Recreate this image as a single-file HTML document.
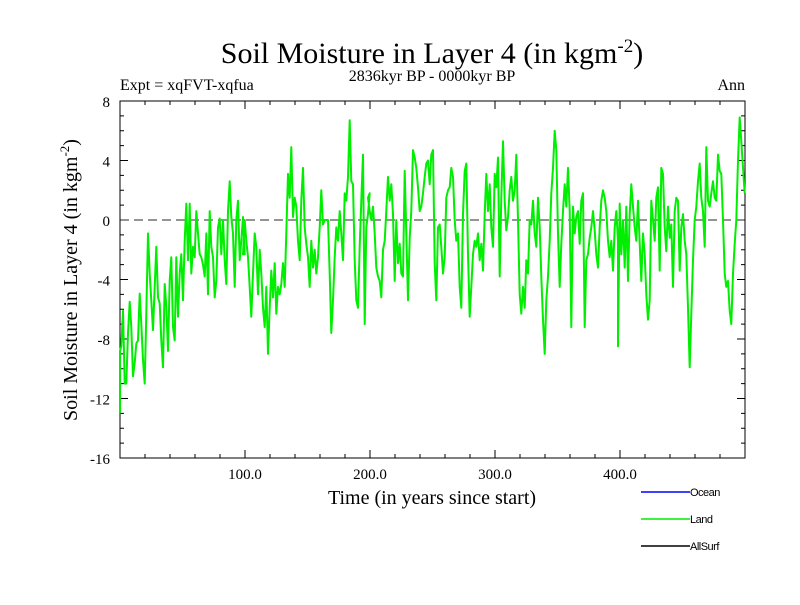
<!DOCTYPE html>
<html><head><meta charset="utf-8"><style>
body{margin:0;background:#fff;}
svg text{font-family:"Liberation Serif",serif;fill:#000;}
</style></head><body>
<svg id="chart" width="800" height="600" viewBox="0 0 800 600" xmlns="http://www.w3.org/2000/svg">
<rect width="800" height="600" fill="#fff"/>
<text x="432" y="63" font-size="30" text-anchor="middle">Soil Moisture in Layer 4 (in kgm<tspan dy="-11" font-size="19">-2</tspan><tspan dy="11">)</tspan></text>
<text x="120" y="90" font-size="16">Expt = xqFVT-xqfua</text>
<text x="432" y="81" font-size="16" text-anchor="middle">2836kyr BP - 0000kyr BP</text>
<text x="745" y="90" font-size="16" text-anchor="end">Ann</text>
<text transform="translate(77,280) rotate(-90)" font-size="20" text-anchor="middle">Soil Moisture in Layer 4 (in kgm<tspan dy="-8" font-size="13">-2</tspan><tspan dy="8">)</tspan></text>
<text x="432" y="504" font-size="20" text-anchor="middle">Time (in years since start)</text>
<g id="axes"></g>
<g id="series"></g>
<g id="legend"></g>
</svg>
<script>
const xTickValues=[100,200,300,400];
const xTickLabels=["100.0","200.0","300.0","400.0"];
const yTickValues=[8,4,0,-4,-8,-12,-16];
const yTickLabels=["8","4","0","-4","-8","-12","-16"];
const segStartYears=[-1.6,98.4,198.4,298.4,398.4];
const sampleStepYears=1.3333;
const landSeg1=[-13.0,-8.8,-8.5,-6.1,-11.0,-11.0,-7.6,-5.5,-7.2,-10.5,-9.6,-8.3,-8.1,-4.95,-7.0,-9.4,-11.0,-6.3,-0.9,-3.6,-5.4,-7.4,-4.5,-1.8,-5.2,-5.6,-8.1,-9.9,-4.3,-5.8,-8.8,-4.1,-2.5,-7.2,-8.1,-2.5,-6.5,-3.6,-2.3,-5.4,-1.4,1.1,-2.7,1.1,-3.6,-1.8,-2.5,0.6,-0.9,-2.3,-2.5,-3.0,-3.8,-0.9,-5.0,0.6,-1.8,-2.5,-5.2,-4.1,-0.5,0.1,-2.3,0.0,-2.7,-4.3,0.6,2.6,0.2,-0.9,-4.5,0.0,1.3,-2.7,-1.4,0.2,-2.3];
const landSeg2=[-2.3,0,-1.4,-2.5,-4.5,-6.5,-3.6,-0.9,-1.8,-5.0,-2.0,-3.6,-5.9,-7.2,-4.5,-9.0,-5.9,-3.4,-5.2,-2.9,-6.3,-4.5,-5.0,-4.3,-2.9,-4.5,-0.9,3.1,1.5,4.9,0.2,1.5,0.9,-1.4,-2.7,1.3,3.5,-0.5,-1.6,-2.5,-4.5,-1.4,-3.2,-2.0,-3.6,-2.5,-0.5,2.0,-0.3,0,0,0,-3.6,-7.6,-5.4,-2.5,-0.5,-1.4,0.6,-0.9,-2.7,1.8,1.3,2.9,6.7,2.6,2.4,-2.7,-5.4,-5.9,-1.8,1.3,4.4,-7.0,-0.5,0.4,1.8];
const landSeg3=[1.5,0.6,0.0,0.9,-0.9,-3.2,-3.8,-4.1,-5.2,-2.0,-1.4,0.6,2.9,1.3,2.4,0.4,-4.1,0.0,-2.9,-1.6,-3.6,-3.8,3.3,-0.9,-5.4,-1.2,0.6,4.7,4.2,3.5,2.2,0.6,0.9,1.8,2.9,3.8,4.0,2.4,4.4,4.7,-2.9,-5.4,-0.5,-0.3,-1.8,-3.6,-2.5,1.5,2.0,2.2,3.5,2.9,0.0,-1.4,-0.9,-4.5,-5.9,0.4,3.3,3.8,-2.3,-6.5,-4.5,-2.3,-1.4,-1.8,-0.9,-2.7,-1.6,-3.4,0.4,3.1,0.6,2.4,-0.5];
const landSeg4=[-1.8,3.1,2.2,4.2,-3.8,1.5,5.3,1.3,-0.7,0.2,2.0,2.9,1.3,2.0,4.4,0.0,-5.0,-6.3,-4.5,-5.9,-2.7,-3.6,0.0,-0.3,1.3,-0.9,-1.8,1.5,-0.5,-3.8,-6.7,-9.0,-5.4,-3.8,-1.4,1.8,3.5,6.0,4.7,-0.9,-4.5,-1.6,0.6,2.4,0.9,3.5,0.6,-7.2,0.9,-0.9,0.2,0.6,-1.6,1.3,1.8,-7.2,-2.7,-2.3,-1.2,-0.5,0.6,-0.7,-2.3,-3.2,-0.5,1.3,2.0,1.5,0.6,-1.4,-2.5,-1.4,-3.4,-0.5,0.6,-1.4];
const landSeg5=[-8.5,1.1,-2.3,0.0,-3.2,0.9,-4.1,0.4,2.4,0.9,-0.5,-1.4,1.3,-1.6,-4.1,-0.9,-2.3,-5.0,-6.7,-5.4,1.3,0.0,-1.4,1.5,2.2,-3.4,3.5,3.1,-0.5,-2.1,0.9,-1.2,-0.3,-4.5,0.6,1.5,1.3,-3.4,-0.5,0.4,-1.4,-2.3,-5.9,-9.9,-6.3,-2.7,0.0,0.9,2.6,3.8,1.5,0.6,-1.8,4.9,1.3,0.9,1.8,2.6,1.5,1.3,4.4,3.3,3.1,0.0,-3.6,-4.5,-4.1,-6.1,-7.0,-3.6,-1.6,0.0,4.0,6.9,5.3,3.5,1.8];
const landSegments=[landSeg1,landSeg2,landSeg3,landSeg4,landSeg5];
const legendNames=["Ocean","Land","AllSurf"];
const legendColors=["#0000ff","#00ee00","#000000"];

const NS="http://www.w3.org/2000/svg";
const L=120,R=745,T=101,B=458,xMin=0,xMax=500,yMin=-16,yMax=8;
function xs(v){return L+(v-xMin)/(xMax-xMin)*(R-L);}
function ys(v){return B-(v-yMin)/(yMax-yMin)*(B-T);}
function mk(tag,attrs,parent){const e=document.createElementNS(NS,tag);for(const k in attrs)e.setAttribute(k,attrs[k]);parent.appendChild(e);return e;}
const axes=document.getElementById('axes');
let ticks="";
for(let v=yMin;v<=yMax;v++){const y=ys(v).toFixed(1);const len=(v%4===0)?8:4;ticks+=`M${L},${y}h${len}M${R},${y}h${-len}`;}
for(let v=20;v<xMax;v+=20){const x=xs(v).toFixed(1);const len=(v%100===0)?8:4;ticks+=`M${x},${B}v${-len}M${x},${T}v${len}`;}
const tk=mk('path',{d:ticks,stroke:'#000','stroke-width':1,fill:'none'},axes);


yTickValues.forEach((v,i)=>{const t=mk('text',{x:L-10,y:ys(v)+6,'font-size':15,'text-anchor':'end'},axes);t.textContent=yTickLabels[i];

});
xTickValues.forEach((v,i)=>{const t=mk('text',{x:xs(v),y:B+21,'font-size':15,'text-anchor':'middle'},axes);t.textContent=xTickLabels[i];

});
const zl=mk('line',{x1:L,x2:R,y1:ys(0),y2:ys(0),stroke:'#555','stroke-width':1.3,'stroke-dasharray':'9,5'},axes);


const fr=mk('rect',{x:L,y:T,width:R-L,height:B-T,fill:'none',stroke:'#000','stroke-width':1},axes);


const pts=[];
landSegments.forEach((seg,si)=>{seg.forEach((v,i)=>{let yr=segStartYears[si]+i*sampleStepYears;yr=Math.max(xMin,Math.min(xMax,yr));pts.push(xs(yr).toFixed(1)+","+ys(v).toFixed(1));});});
const sg=document.getElementById('series');
const pl=mk('polyline',{points:pts.join(" "),fill:'none',stroke:'#00ee00','stroke-width':2,'stroke-linejoin':'round'},sg);


const lg=document.getElementById('legend');
legendNames.forEach((n,i)=>{const y=492+i*27;
const ln=mk('line',{x1:641,x2:690,y1:y,y2:y,stroke:legendColors[i],'stroke-width':1.5},lg);


const t=mk('text',{x:690,y:y+4,'font-size':11,style:'font-family:"Liberation Sans",sans-serif;letter-spacing:-0.5px'},lg);t.textContent=n;

});
</script>
</body></html>
